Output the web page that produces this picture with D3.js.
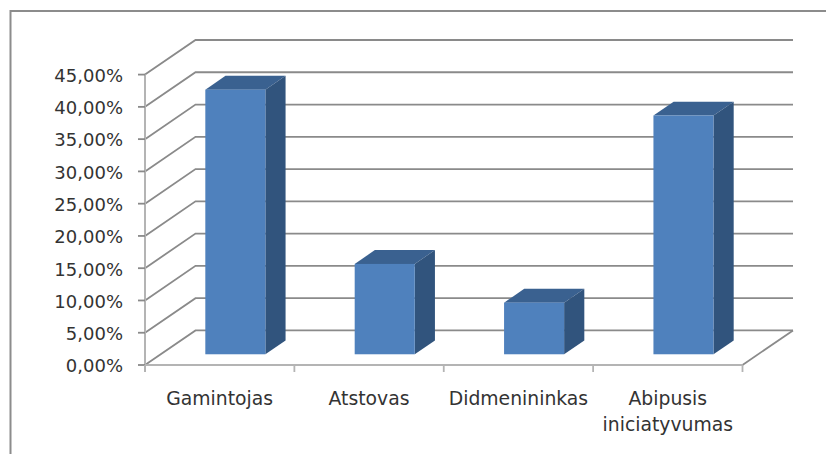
<!DOCTYPE html>
<html>
<head>
<meta charset="utf-8">
<script src="https://cdn.jsdelivr.net/npm/d3@7"></script>
<style>
html, body { margin: 0; padding: 0; background: #fff; }
svg { display: block; }
text { font-family: "DejaVu Sans", Verdana, sans-serif; fill: #333; }
</style>
</head>
<body>
<svg id="chart" width="826" height="454"></svg>
<script>
const categories = ["Gamintojas", "Atstovas", "Didmenininkas", "Abipusis iniciatyvumas"];
const values = [41, 14, 8, 37];
const tickValues = [0, 5, 10, 15, 20, 25, 30, 35, 40, 45];

const svg = d3.select("#chart");
const gridColor = "#8a8a8a";
const axisColor = "#b4b4b4";

// Front plane of the 3D box and the offset towards its back wall
const plot = { left: 145, right: 742.5, bottom: 365, top: 74.6 };
const depth = { dx: 50.5, dy: -34.6 };

const y = d3.scaleLinear().domain([0, 45]).range([plot.bottom, plot.top]);
const x = d3.scaleBand().domain(categories).range([plot.left, plot.right])
  .paddingInner(0.598).paddingOuter(0.299);
const formatPct = v => v.toFixed(2).replace(".", ",") + "%";

// Outer frame: only the top and left edges fall inside the window
svg.append("path")
  .attr("d", "M826,11H10.5V454")
  .attr("fill", "none").attr("stroke", "#8c8c8c").attr("stroke-width", 2);

// Gridlines across the side wall and the back wall
const grid = svg.append("g").attr("fill", "none").attr("stroke", gridColor).attr("stroke-width", 1.8);
grid.selectAll("path").data(tickValues).join("path")
  .attr("d", v => d3.line()([
    [plot.left, y(v)],
    [plot.left + depth.dx, y(v) + depth.dy],
    [plot.right + depth.dx, y(v) + depth.dy]
  ]));

// Right edge of the floor
svg.append("line")
  .attr("x1", plot.right).attr("y1", plot.bottom)
  .attr("x2", plot.right + depth.dx).attr("y2", plot.bottom + depth.dy)
  .attr("stroke", gridColor).attr("stroke-width", 1.8);

// Value axis on the front edge of the side wall
const yAxis = svg.append("g");
yAxis.append("line")
  .attr("x1", plot.left).attr("x2", plot.left)
  .attr("y1", plot.top).attr("y2", plot.bottom + 7)
  .attr("stroke", axisColor).attr("stroke-width", 2);
yAxis.selectAll("line.tick").data(tickValues).join("line").attr("class", "tick")
  .attr("x1", plot.left - 7).attr("x2", plot.left)
  .attr("y1", v => y(v)).attr("y2", v => y(v))
  .attr("stroke", gridColor).attr("stroke-width", 1.8);
yAxis.selectAll("text").data(tickValues).join("text")
  .attr("x", plot.left - 22).attr("y", v => y(v) + 1)
  .attr("dy", "0.35em").attr("text-anchor", "end")
  .attr("font-size", 18)
  .text(formatPct);

// Category axis on the front edge of the floor
const slot = (plot.right - plot.left) / categories.length;
const xAxis = svg.append("g");
xAxis.append("line")
  .attr("x1", plot.left).attr("x2", plot.right)
  .attr("y1", plot.bottom).attr("y2", plot.bottom)
  .attr("stroke", axisColor).attr("stroke-width", 2);
xAxis.selectAll("line.tick").data(d3.range(categories.length + 1)).join("line").attr("class", "tick")
  .attr("x1", i => plot.left + slot * i).attr("x2", i => plot.left + slot * i)
  .attr("y1", plot.bottom).attr("y2", plot.bottom + 7)
  .attr("stroke", axisColor).attr("stroke-width", 1.8);
xAxis.selectAll("text").data(categories).join("text")
  .attr("text-anchor", "middle")
  .attr("font-size", 18.8)
  .each(function (d, i) {
    const t = d3.select(this);
    const cx = plot.left + slot * (i + 0.5);
    d.split(" ").forEach((word, k) => {
      t.append("tspan").attr("x", cx).attr("y", 405 + k * 25.5).text(word);
    });
  });

// Bars: front face sits 31% into the depth, back face at 71%
const near = 0.31, far = 0.71;
const bars = svg.append("g").selectAll("g").data(categories).join("g");
const bx = (d, f) => x(d) + depth.dx * f;
const by = (v, f) => y(v) + depth.dy * f;
const w = x.bandwidth();

bars.append("path").attr("fill", "#3a6190")
  .attr("d", (d, i) => d3.line()([
    [bx(d, near), by(values[i], near)],
    [bx(d, far), by(values[i], far)],
    [bx(d, far) + w, by(values[i], far)],
    [bx(d, near) + w, by(values[i], near)]
  ]) + "Z");
bars.append("path").attr("fill", "#31547d")
  .attr("d", (d, i) => d3.line()([
    [bx(d, near) + w, by(values[i], near)],
    [bx(d, far) + w, by(values[i], far)],
    [bx(d, far) + w, by(0, far)],
    [bx(d, near) + w, by(0, near)]
  ]) + "Z");
bars.append("rect").attr("fill", "#4f81bd")
  .attr("x", d => bx(d, near))
  .attr("y", (d, i) => by(values[i], near))
  .attr("width", w)
  .attr("height", (d, i) => by(0, near) - by(values[i], near));
</script>
</body>
</html>
